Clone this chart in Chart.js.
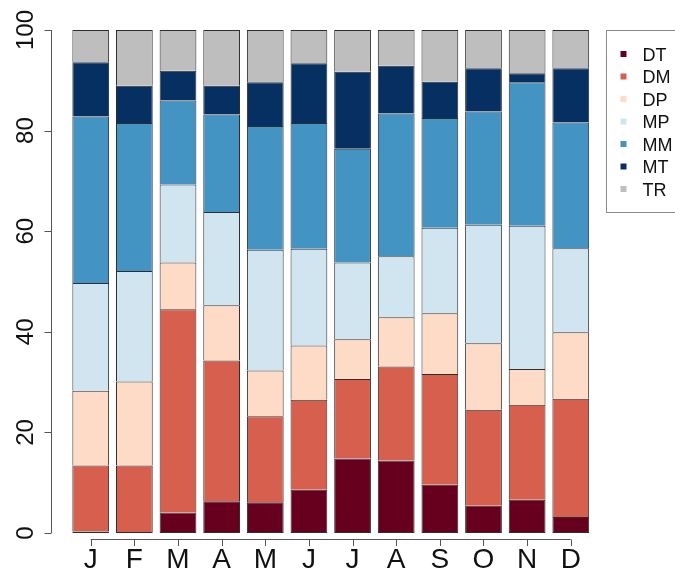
<!DOCTYPE html>
<html>
<head>
<meta charset="utf-8">
<script src="https://cdn.jsdelivr.net/npm/chart.js@4/dist/chart.umd.min.js"></script>
<style>
  html, body { margin: 0; padding: 0; background: #ffffff; }
  #wrap { width: 675px; height: 571px; }
</style>
</head>
<body>
<div id="wrap"><canvas id="c" width="675" height="571"></canvas></div>
<script>
// Monthly share (%) of each weather type
const months = ['J', 'F', 'M', 'A', 'M', 'J', 'J', 'A', 'S', 'O', 'N', 'D'];
const yTicks = [0, 20, 40, 60, 80, 100];

const DT = [0.3, 0.2, 4.1, 6.3, 6.1, 8.6, 14.8, 14.4, 9.6, 5.4, 6.6, 3.2];
const DM = [13.1, 13.2, 40.4, 28.0, 17.1, 17.9, 15.8, 18.7, 22.0, 19.1, 18.9, 23.5];
const DP = [14.9, 16.7, 9.3, 11.0, 9.1, 10.8, 7.9, 9.8, 12.1, 13.2, 7.1, 13.2];
const MP = [21.4, 22.0, 15.5, 18.5, 24.0, 19.2, 15.3, 12.1, 17.0, 23.6, 28.5, 16.7];
const MM = [33.1, 29.4, 16.7, 19.4, 24.6, 25.0, 22.6, 28.4, 21.8, 22.5, 28.5, 25.0];
const MT = [10.8, 7.4, 5.9, 5.7, 8.7, 11.9, 15.3, 9.5, 7.2, 8.6, 1.8, 10.8];
const TR = [6.4, 11.1, 8.1, 11.1, 10.4, 6.6, 8.3, 7.1, 10.3, 7.6, 8.6, 7.6];

const seriesNames = ['DT', 'DM', 'DP', 'MP', 'MM', 'MT', 'TR'];
const seriesData = [DT, DM, DP, MP, MM, MT, TR];
const seriesColors = ['#67001f', '#d6604d', '#fddbc7', '#d1e5f0', '#4393c3', '#053061', '#bebebe'];

const FONT = '"Liberation Sans", Arial, Helvetica, sans-serif';
const AXIS_COLOR = '#555555';

const datasets = seriesNames.map((name, i) => ({
  label: name,
  data: seriesData[i],
  backgroundColor: seriesColors[i],
  borderColor: '#2e2e2e',
  borderWidth: 1,
  borderSkipped: i === 0 ? false : 'bottom',
  categoryPercentage: 1.0,
  barPercentage: 0.842
}));

// Base-graphics style axes: detached lines, outward ticks, vertical y labels, boxed legend
const axesPlugin = {
  id: 'baseAxes',
  afterDraw(chart) {
    const ctx = chart.ctx;
    const xs = chart.scales.x;
    const ys = chart.scales.y;
    ctx.save();

    // y axis
    const yAxisX = 51.5;
    ctx.strokeStyle = AXIS_COLOR;
    ctx.lineWidth = 1;
    ctx.beginPath();
    ctx.moveTo(yAxisX, ys.getPixelForValue(yTicks[0]));
    ctx.lineTo(yAxisX, ys.getPixelForValue(yTicks[yTicks.length - 1]));
    yTicks.forEach(v => {
      const py = Math.round(ys.getPixelForValue(v)) + 0.5;
      ctx.moveTo(yAxisX, py);
      ctx.lineTo(yAxisX - 7, py);
    });
    ctx.stroke();

    ctx.fillStyle = '#111111';
    ctx.font = '24px ' + FONT;
    ctx.textAlign = 'center';
    ctx.textBaseline = 'alphabetic';
    yTicks.forEach(v => {
      const py = ys.getPixelForValue(v);
      ctx.save();
      ctx.translate(33, py);
      ctx.rotate(-Math.PI / 2);
      ctx.fillText(String(v), 0, 0);
      ctx.restore();
    });

    // x axis
    const xAxisY = 539.5;
    const first = xs.getPixelForValue(0);
    const last = xs.getPixelForValue(months.length - 1);
    ctx.beginPath();
    ctx.moveTo(first, xAxisY);
    ctx.lineTo(last, xAxisY);
    months.forEach((m, i) => {
      const px = Math.round(xs.getPixelForValue(i)) + 0.5;
      ctx.moveTo(px, xAxisY);
      ctx.lineTo(px, xAxisY + 6.5);
    });
    ctx.stroke();

    ctx.font = '28px ' + FONT;
    ctx.textAlign = 'center';
    ctx.textBaseline = 'alphabetic';
    months.forEach((m, i) => {
      ctx.fillText(m, xs.getPixelForValue(i), 568);
    });

    // legend
    ctx.strokeStyle = '#8a8a8a';
    ctx.strokeRect(606.5, 30.5, 90, 182);
    ctx.font = '18px ' + FONT;
    ctx.textAlign = 'left';
    chart.data.datasets.forEach((ds, i) => {
      const cy = 54 + i * 22.5;
      ctx.fillStyle = ds.backgroundColor;
      ctx.fillRect(620.5, cy - 3, 6, 6);
      ctx.fillStyle = '#111111';
      ctx.fillText(ds.label, 642.5, cy + 6.5);
    });

    ctx.restore();
  }
};

new Chart(document.getElementById('c'), {
  type: 'bar',
  data: { labels: months, datasets: datasets },
  options: {
    responsive: false,
    animation: false,
    devicePixelRatio: 1,
    layout: { padding: { left: 68.9, right: 82.4, top: 30, bottom: 38 } },
    plugins: { legend: { display: false }, tooltip: { enabled: false } },
    scales: {
      x: { stacked: true, display: false, offset: true },
      y: { stacked: true, display: false, min: 0, max: 100 }
    }
  },
  plugins: [axesPlugin]
});
</script>
</body>
</html>
